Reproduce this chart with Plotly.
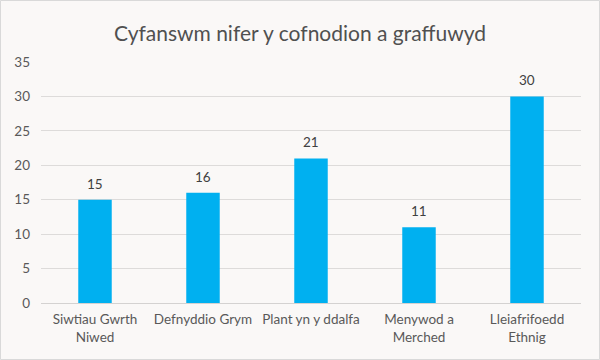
import plotly.graph_objects as go

categories = ["Siwtiau Gwrth<br>Niwed", "Defnyddio Grym", "Plant yn y ddalfa", "Menywod a<br>Merched", "Lleiafrifoedd<br>Ethnig"]
values = [15, 16, 21, 11, 30]
y_ticks = [0, 5, 10, 15, 20, 25, 30, 35]
title = "Cyfanswm nifer y cofnodion a graffuwyd"

W, H = 600, 360
ml, mr, mt, mb = 41, 19, 62, 57
pw, ph = W - ml - mr, H - mt - mb

font = "Lato, 'Open Sans', sans-serif"
grey = "#595959"
bg = "#FAF8F7"

fig = go.Figure(go.Bar(
    x=categories, y=values,
    marker=dict(color="#00B0F0", line=dict(width=0)),
    width=0.31, hoverinfo="skip",
))

for c, v in zip(categories, values):
    fig.add_annotation(x=c, y=v, text=str(v), showarrow=False, yanchor="bottom", yshift=6,
                       font=dict(family=font, size=13.5, color="#404040"))

fig.update_layout(
    width=W, height=H,
    margin=dict(l=ml, r=mr, t=mt, b=mb, autoexpand=False),
    paper_bgcolor=bg, plot_bgcolor=bg,
    title=dict(text=title, x=0.5, xanchor="center", y=1 - 34 / H, yanchor="middle",
               font=dict(family=font, size=21, color="#505050")),
    showlegend=False,
    font=dict(family=font, size=13.5, color=grey),
)
fig.update_yaxes(range=[0, 35], tickvals=y_ticks, showgrid=True, gridcolor="#DDDBDA", gridwidth=1,
                 zeroline=False, showline=False, ticks="", tickfont=dict(size=13.5, color=grey),
                 ticklabelstandoff=10, fixedrange=True, automargin=False)
fig.update_xaxes(showline=True, linecolor="#D4D2D1", linewidth=1, ticks="", tickfont=dict(size=13.5, color=grey),
                 ticklabelstandoff=4, fixedrange=True, automargin=False)

fig.add_shape(type="rect", xref="paper", yref="paper",
              x0=-(ml - 0.5) / pw, x1=1 + (mr - 0.5) / pw,
              y0=-(mb - 0.5) / ph, y1=1 + (mt - 0.5) / ph,
              line=dict(color="#D9D9D9", width=1), fillcolor="rgba(0,0,0,0)", layer="below")

fig.write_html("out.html", config={"displayModeBar": False},
               post_script="document.body.style.margin='0';")
